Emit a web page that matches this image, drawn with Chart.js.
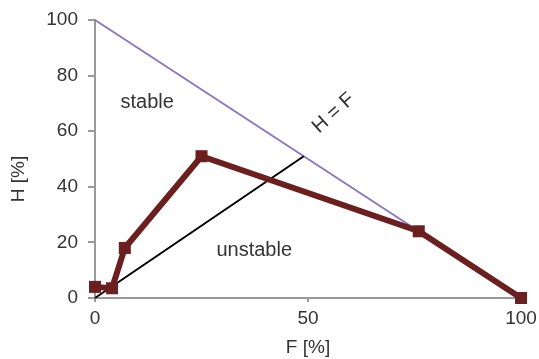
<!DOCTYPE html>
<html><head><meta charset="utf-8">
<script src="https://cdn.jsdelivr.net/npm/chart.js@4"></script>
<style>html,body{margin:0;padding:0;background:#fff}#wrap{width:539px;height:359px}</style>
</head><body><div id="wrap"><canvas id="c" width="539" height="359"></canvas></div>
<script>
// Data
const measuredF = [0, 4, 7, 25, 76, 100];
const measuredH = [4, 3.5, 18, 51, 24, 0];
const boundaryF = [0, 100];
const boundaryH = [100, 0];
const diagonalF = [0, 49];
const diagonalH = [0, 51];
const xTicks = [0, 50, 100];
const yTicks = [0, 20, 40, 60, 80, 100];
const labels = {x: 'F [%]', y: 'H [%]', stable: 'stable', unstable: 'unstable', diag: 'H = F'};

const pts = (xs, ys) => xs.map((x, i) => ({x, y: ys[i]}));
const FONT = '"Liberation Sans", Arial, sans-serif';
const TXT = '#333';

const annot = {
  id: 'annot',
  afterDatasetsDraw(chart) {
    const {ctx, scales: {x, y}} = chart;
    ctx.save();
    ctx.fillStyle = TXT;
    ctx.font = '20px ' + FONT;
    ctx.textBaseline = 'middle';
    ctx.textAlign = 'left';
    ctx.fillText(labels.stable, x.getPixelForValue(6), y.getPixelForValue(70.5));
    ctx.fillText(labels.unstable, x.getPixelForValue(28.5), y.getPixelForValue(17));
    ctx.save();
    ctx.translate(x.getPixelForValue(56), y.getPixelForValue(66.5));
    ctx.rotate(-42 * Math.PI / 180);
    ctx.textAlign = 'center';
    ctx.fillText(labels.diag, 0, 0);
    ctx.restore();
    ctx.font = '19px ' + FONT;
    ctx.save();
    ctx.translate(19, 179);
    ctx.rotate(-Math.PI / 2);
    ctx.textAlign = 'center';
    ctx.fillText(labels.y, 0, 0);
    ctx.restore();
    ctx.restore();
  }
};

new Chart(document.getElementById('c'), {
  type: 'scatter',
  data: {
    datasets: [
      {data: pts(boundaryF, boundaryH), showLine: true, borderColor: '#8c78c2', borderWidth: 2, pointRadius: 0, order: 3, clip: false},
      {data: pts(diagonalF, diagonalH), showLine: true, borderColor: '#000', borderWidth: 2, pointRadius: 0, order: 2, clip: false},
      {data: pts(measuredF, measuredH), showLine: true, borderColor: '#6b1f1f', backgroundColor: '#6b1f1f', borderWidth: 6,
       pointStyle: 'rect', pointRadius: 8.5, pointBorderWidth: 0, order: 1, clip: false}
    ]
  },
  options: {
    responsive: false, animation: false,
    layout: {padding: {left: 0, top: 20, right: 18, bottom: 0}},
    plugins: {legend: {display: false}, tooltip: {enabled: false}},
    scales: {
      x: {
        type: 'linear', min: 0, max: 100,
        afterBuildTicks: a => { a.ticks = xTicks.map(v => ({value: v})); },
        afterFit: a => { a.height = 61; a.paddingLeft = 0; a.paddingRight = 0; },
        border: {color: '#999', width: 2},
        grid: {drawOnChartArea: false, drawTicks: true, tickLength: 4, color: '#999', lineWidth: 2},
        ticks: {color: TXT, font: {family: FONT, size: 19}, padding: 5},
        title: {display: true, text: labels.x, color: TXT, font: {family: FONT, size: 19}, padding: {top: 0, bottom: 0}}
      },
      y: {
        type: 'linear', min: 0, max: 100,
        afterBuildTicks: a => { a.ticks = yTicks.map(v => ({value: v})); },
        afterFit: a => { a.width = 95; a.paddingTop = 0; a.paddingBottom = 0; },
        border: {color: '#999', width: 2},
        grid: {drawOnChartArea: false, drawTicks: true, tickLength: 7, color: '#999', lineWidth: 2},
        ticks: {color: TXT, font: {family: FONT, size: 19}, padding: 10},
        title: {display: false}
      }
    }
  },
  plugins: [annot]
});
</script></body></html>
